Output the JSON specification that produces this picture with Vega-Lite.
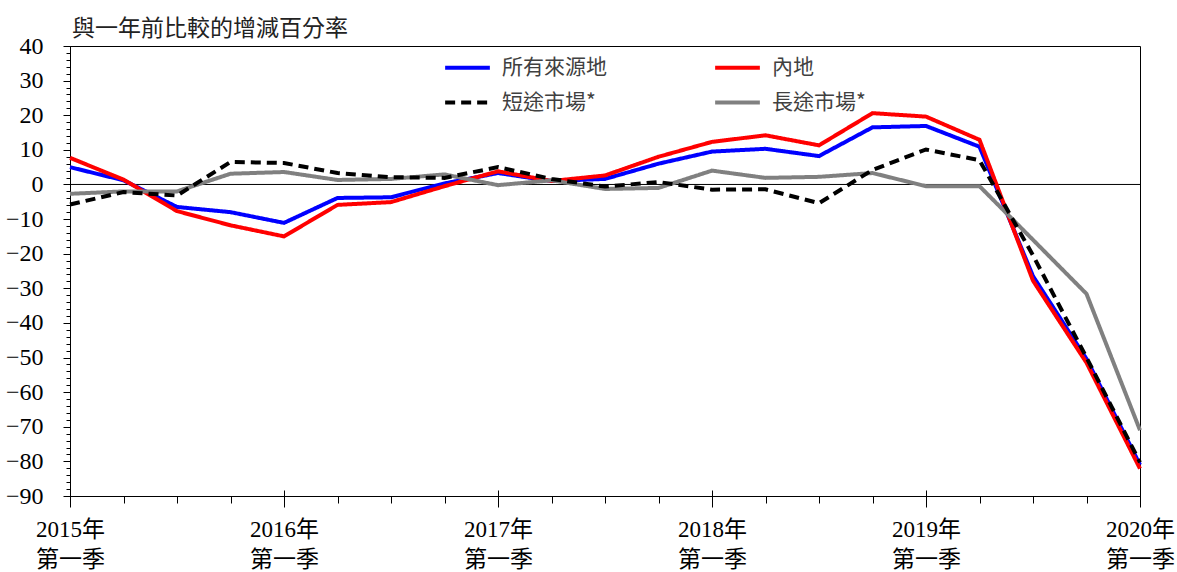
{
  "$schema": "https://vega.github.io/schema/vega-lite/v6.json",
  "width": 1070,
  "height": 450,
  "autosize": {"type": "none"},
  "padding": {"left": 70, "top": 46, "right": 37, "bottom": 76},
  "background": "white",
  "title": {"text": "與一年前比較的增減百分率", "anchor": "start", "frame": "group", "font": "Noto Sans CJK TC", "fontSize": 23, "fontWeight": "normal", "color": "#222222", "offset": -7, "dx": 2},
  "config": {
    "view": {"stroke": "black", "strokeWidth": 1},
    "axis": {"grid": false, "tickColor": "black", "domainColor": "black", "labelColor": "black"},
    "legend": {"orient": "none", "legendX": 373, "legendY": -3, "columns": 2, "symbolType": "stroke", "symbolSize": 2000, "symbolStrokeWidth": 4, "labelFontSize": 21, "labelFont": "Noto Sans CJK TC", "labelColor": "#404040", "columnPadding": 100, "rowPadding": -9, "labelOffset": 10, "labelLimit": 300}
  },
  "datasets": {
    "tourism": [
      {"q": "2015Q1", "所有來源地": 5.0, "內地": 7.7, "短途市場*": -5.8, "長途市場*": -2.7},
      {"q": "2015Q2", "所有來源地": 1.2, "內地": 1.4, "短途市場*": -2.2, "長途市場*": -2.0},
      {"q": "2015Q3", "所有來源地": -6.5, "內地": -7.7, "短途市場*": -3.2, "長途市場*": -2.0},
      {"q": "2015Q4", "所有來源地": -8.0, "內地": -11.8, "短途市場*": 6.5, "長途市場*": 3.1},
      {"q": "2016Q1", "所有來源地": -11.1, "內地": -15.0, "短途市場*": 6.2, "長途市場*": 3.6},
      {"q": "2016Q2", "所有來源地": -3.9, "內地": -5.9, "短途市場*": 3.3, "長途市場*": 1.3},
      {"q": "2016Q3", "所有來源地": -3.7, "內地": -5.1, "短途市場*": 2.1, "長途市場*": 1.6},
      {"q": "2016Q4", "所有來源地": 0.3, "內地": -0.5, "短途市場*": 1.9, "長途市場*": 2.9},
      {"q": "2017Q1", "所有來源地": 3.3, "內地": 3.8, "短途市場*": 5.0, "長途市場*": -0.2},
      {"q": "2017Q2", "所有來源地": 1.0, "內地": 1.0, "短途市場*": 1.6, "長途市場*": 1.2},
      {"q": "2017Q3", "所有來源地": 1.6, "內地": 2.6, "短途市場*": -0.6, "長途市場*": -1.3},
      {"q": "2017Q4", "所有來源地": 6.0, "內地": 8.0, "短途市場*": 0.7, "長途市場*": -1.0},
      {"q": "2018Q1", "所有來源地": 9.5, "內地": 12.3, "短途市場*": -1.5, "長途市場*": 4.0},
      {"q": "2018Q2", "所有來源地": 10.3, "內地": 14.2, "短途市場*": -1.4, "長途市場*": 1.9},
      {"q": "2018Q3", "所有來源地": 8.2, "內地": 11.3, "短途市場*": -5.4, "長途市場*": 2.2},
      {"q": "2018Q4", "所有來源地": 16.5, "內地": 20.6, "短途市場*": 4.2, "長途市場*": 3.3},
      {"q": "2019Q1", "所有來源地": 16.9, "內地": 19.6, "短途市場*": 10.1, "長途市場*": -0.5},
      {"q": "2019Q2", "所有來源地": 10.9, "內地": 12.9, "短途市場*": 7.0, "長途市場*": -0.5},
      {"q": "2019Q3", "所有來源地": -26.5, "內地": -27.8, "短途市場*": -20.5, "長途市場*": -16.0},
      {"q": "2019Q4", "所有來源地": -50.4, "內地": -51.5, "短途市場*": -50.0, "長途市場*": -31.6},
      {"q": "2020Q1", "所有來源地": -81.0, "內地": -82.1, "短途市場*": -80.3, "長途市場*": -71.0}
    ]
  },
  "data": {"name": "tourism"},
  "transform": [
    {"fold": ["所有來源地", "內地", "短途市場*", "長途市場*"], "as": ["series", "value"]}
  ],
  "resolve": {"axis": {"x": "independent", "y": "independent"}},
  "layer": [
    {
      "data": {"values": [{"v": 0}]},
      "transform": [],
      "mark": {"type": "rule", "color": "black", "strokeWidth": 1},
      "encoding": {
        "y": {"field": "v", "type": "quantitative", "scale": {"domain": [-90, 40], "nice": false, "zero": false}, "axis": null}
      }
    },
    {
      "transform": [{"filter": {"field": "series", "equal": "所有來源地"}}],
      "mark": {"type": "line", "strokeWidth": 4, "strokeCap": "butt", "strokeJoin": "miter"},
      "encoding": {
        "x": {"field": "q", "type": "ordinal", "scale": {"type": "point", "padding": 0, "domain": ["2015Q1","2015Q2","2015Q3","2015Q4","2016Q1","2016Q2","2016Q3","2016Q4","2017Q1","2017Q2","2017Q3","2017Q4","2018Q1","2018Q2","2018Q3","2018Q4","2019Q1","2019Q2","2019Q3","2019Q4","2020Q1"]},
          "axis": {"orient": "bottom", "values": ["2015Q1","2015Q2","2015Q3","2015Q4","2016Q1","2016Q2","2016Q3","2016Q4","2017Q1","2017Q2","2017Q3","2017Q4","2018Q1","2018Q2","2018Q3","2018Q4","2019Q1","2019Q2","2019Q3","2019Q4","2020Q1"], "labels": false, "tickSize": 7, "domain": false, "title": null}},
        "y": {"field": "value", "type": "quantitative", "scale": {"domain": [-90, 40], "nice": false, "zero": false},
          "axis": {"orient": "left", "values": [-90,-88,-86,-84,-82,-80,-78,-76,-74,-72,-70,-68,-66,-64,-62,-60,-58,-56,-54,-52,-50,-48,-46,-44,-42,-40,-38,-36,-34,-32,-30,-28,-26,-24,-22,-20,-18,-16,-14,-12,-10,-8,-6,-4,-2,0,2,4,6,8,10,12,14,16,18,20,22,24,26,28,30,32,34,36,38,40], "labels": false, "tickSize": 4, "domain": false, "title": null}},
        "color": {"field": "series", "type": "nominal", "scale": {"domain": ["所有來源地", "短途市場*", "內地", "長途市場*"], "range": ["#0000FF", "#000000", "#FF0000", "#808080"]}, "legend": {"title": null}},
        "strokeDash": {"field": "series", "type": "nominal", "scale": {"domain": ["所有來源地", "短途市場*", "內地", "長途市場*"], "range": [[1, 0], [10, 6], [1, 0], [1, 0]]}, "legend": {"title": null}}
      }
    },
    {
      "transform": [{"filter": {"field": "series", "equal": "內地"}}],
      "mark": {"type": "line", "strokeWidth": 4, "strokeCap": "butt", "strokeJoin": "miter"},
      "encoding": {
        "x": {"field": "q", "type": "ordinal",
          "axis": {"orient": "bottom", "values": ["2015Q1","2016Q1","2017Q1","2018Q1","2019Q1","2020Q1"], "labelExpr": "[substring(datum.value, 0, 4) + '年', '第一季']", "labelAngle": 0, "labelAlign": "center", "labelBaseline": "top", "labelLineHeight": 30, "labelFontSize": 23, "labelFont": "Liberation Serif, Noto Sans CJK TC", "labelPadding": 11, "tickSize": 11, "domain": true, "title": null}},
        "y": {"field": "value", "type": "quantitative",
          "axis": {"orient": "left", "values": [-90,-80,-70,-60,-50,-40,-30,-20,-10,0,10,20,30,40], "tickSize": 7, "labelPadding": 20, "labelFontSize": 24, "labelFont": "Liberation Serif", "domain": true, "title": null}},
        "color": {"field": "series", "type": "nominal", "legend": {"title": null}},
        "strokeDash": {"field": "series", "type": "nominal", "legend": {"title": null}}
      }
    },
    {
      "transform": [{"filter": {"field": "series", "equal": "長途市場*"}}],
      "mark": {"type": "line", "strokeWidth": 4, "strokeCap": "butt", "strokeJoin": "miter"},
      "encoding": {
        "x": {"field": "q", "type": "ordinal",
          "axis": {"orient": "bottom", "values": ["2015Q1","2016Q1","2017Q1","2018Q1","2019Q1","2020Q1"], "labels": false, "tickSize": -6, "domain": false, "title": null}},
        "y": {"field": "value", "type": "quantitative", "axis": null},
        "color": {"field": "series", "type": "nominal", "legend": {"title": null}},
        "strokeDash": {"field": "series", "type": "nominal", "legend": {"title": null}}
      }
    },
    {
      "transform": [{"filter": {"field": "series", "equal": "短途市場*"}}],
      "mark": {"type": "line", "strokeWidth": 4, "strokeCap": "butt", "strokeJoin": "miter"},
      "encoding": {
        "x": {"field": "q", "type": "ordinal", "axis": null},
        "y": {"field": "value", "type": "quantitative", "axis": null},
        "color": {"field": "series", "type": "nominal", "legend": {"title": null}},
        "strokeDash": {"field": "series", "type": "nominal", "legend": {"title": null}}
      }
    }
  ]
}
